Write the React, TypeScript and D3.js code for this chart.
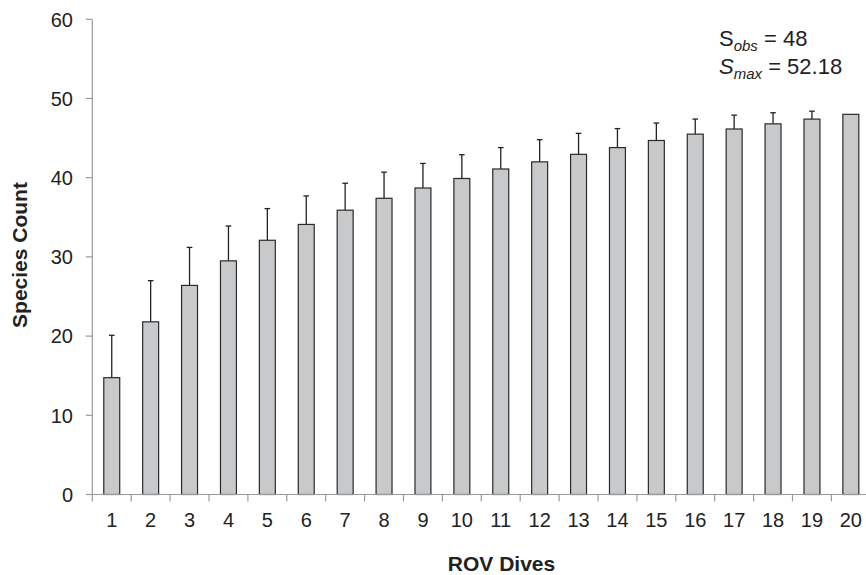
import * as d3 from "d3";
import React from "react";

// dives on the x axis
const dives = Array.from({ length: 20 }, (_, i) => String(i + 1));
// mean species count per dive number
const means = [14.75, 21.8, 26.4, 29.5, 32.1, 34.1, 35.9, 37.4, 38.7, 39.9, 41.1, 42.0, 42.95, 43.8, 44.7, 45.5, 46.15, 46.8, 47.4, 48.0];
// upper end of the error bar
const upper = [20.1, 27.0, 31.2, 33.9, 36.1, 37.7, 39.3, 40.7, 41.8, 42.9, 43.8, 44.8, 45.6, 46.2, 46.9, 47.4, 47.9, 48.2, 48.4, 48.0];
const yTicks = [0, 10, 20, 30, 40, 50, 60];

const W = 866;
const H = 575;
const left = 92.3;
const step = 38.9;
const font = "'Liberation Sans', Arial, sans-serif";

const App: React.FC = () => {
  const x = d3
    .scaleBand<string>()
    .domain(dives)
    .range([left, left + step * dives.length])
    .padding(0);
  const y = d3.scaleLinear().domain([0, 60]).range([494.5, 19.3]);
  const barW = x.bandwidth() * 0.41;
  const axisColor = "#9a9a9a";
  const ink = "#222";

  return (
    <svg width={W} height={H} style={{ position: "absolute", left: 0, top: 0 }} fontFamily={font}>
      {/* y axis */}
      <line x1={left} x2={left} y1={y(60)} y2={y(0)} stroke={axisColor} strokeWidth={1.2} />
      {yTicks.map((t) => (
        <g key={t}>
          <line x1={left - 6.5} x2={left} y1={y(t)} y2={y(t)} stroke={axisColor} strokeWidth={1.2} />
          <text x={73} y={y(t)} dy="0.36em" textAnchor="end" fontSize={20} fill={ink}>
            {t}
          </text>
        </g>
      ))}

      {/* bars + error bars */}
      {dives.map((d, i) => {
        const cx = x(d)! + x.bandwidth() / 2;
        return (
          <g key={d}>
            {upper[i] > means[i] && (
              <g stroke={ink} strokeWidth={1.3}>
                <line x1={cx} x2={cx} y1={y(means[i])} y2={y(upper[i])} />
                <line x1={cx - 2.8} x2={cx + 2.8} y1={y(upper[i])} y2={y(upper[i])} />
              </g>
            )}
            <rect
              x={cx - barW / 2}
              y={y(means[i])}
              width={barW}
              height={y(0) - y(means[i])}
              fill="#c8c9cb"
              stroke="#2a2a2a"
              strokeWidth={1.2}
            />
          </g>
        );
      })}

      {/* x axis */}
      <line x1={left} x2={W} y1={y(0)} y2={y(0)} stroke={axisColor} strokeWidth={1.2} />
      {d3.range(dives.length + 1).map((k) => {
        const tx = left + k * x.step();
        return <line key={k} x1={tx} x2={tx} y1={y(0)} y2={y(0) + 7} stroke={axisColor} strokeWidth={1.2} />;
      })}
      {dives.map((d) => (
        <text key={d} x={x(d)! + x.bandwidth() / 2} y={527} textAnchor="middle" fontSize={20} fill={ink}>
          {d}
        </text>
      ))}

      {/* titles */}
      <text x={501.5} y={570.5} textAnchor="middle" fontSize={21} fontWeight="bold" fill={ink}>
        ROV Dives
      </text>
      <text
        transform={`translate(27,${255}) rotate(-90)`}
        textAnchor="middle"
        fontSize={21}
        fontWeight="bold"
        fill={ink}
      >
        Species Count
      </text>

      {/* annotation */}
      <text x={719} y={45.7} fontSize={22} fill={ink}>
        S
        <tspan fontSize={15} fontStyle="italic" dy={5}>obs</tspan>
        <tspan dy={-5}> = 48</tspan>
      </text>
      <text x={719} y={74} fontSize={22} fill={ink}>
        <tspan fontStyle="italic">S</tspan>
        <tspan fontSize={15} fontStyle="italic" dy={5}>max</tspan>
        <tspan dy={-5}> = 52.18</tspan>
      </text>
    </svg>
  );
};

export default App;
